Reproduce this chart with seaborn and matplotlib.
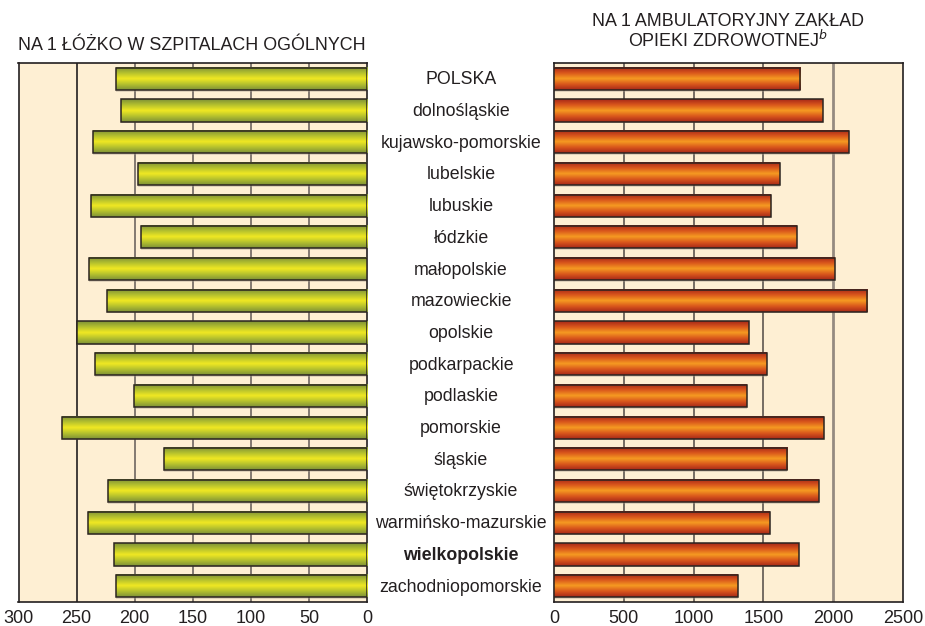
import numpy as np
import pandas as pd
import matplotlib
matplotlib.use("Agg")
import matplotlib.pyplot as plt
import matplotlib.transforms as mtransforms
from matplotlib.colors import LinearSegmentedColormap
import seaborn as sns

# data
regions = ["POLSKA", "dolnośląskie", "kujawsko-pomorskie", "lubelskie", "lubuskie",
           "łódzkie", "małopolskie", "mazowieckie", "opolskie", "podkarpackie",
           "podlaskie", "pomorskie", "śląskie", "świętokrzyskie",
           "warmińsko-mazurskie", "wielkopolskie", "zachodniopomorskie"]
per_bed = [216, 212, 236, 197, 238, 195, 239, 224, 250, 234,
           201, 263, 175, 223, 240, 218, 216]
per_clinic = [1765, 1925, 2112, 1620, 1555, 1742, 2014, 2244, 1397, 1526,
              1383, 1935, 1672, 1899, 1548, 1756, 1315]
left_ticks = [300, 250, 200, 150, 100, 50, 0]
right_ticks = [0, 500, 1000, 1500, 2000, 2500]

df = pd.DataFrame({"region": regions, "bed": per_bed, "clinic": per_clinic})

sns.set_style("white")
plt.rcParams["font.family"] = ["Liberation Sans", "DejaVu Sans"]
text_col = "#231f20"
bg = "#feefd3"

fig = plt.figure(figsize=(9.25, 6.26), dpi=100)
ax_l = fig.add_axes([0.020, 0.0383, 0.377, 0.8611])
ax_r = fig.add_axes([0.599, 0.0383, 0.377, 0.8611])

green_cmap = LinearSegmentedColormap.from_list(
    "g", [(0.0, "#7d9038"), (0.25, "#b4c02e"), (0.5, "#f0e823"),
          (0.75, "#b4c02e"), (1.0, "#7d9038")])
orange_cmap = LinearSegmentedColormap.from_list(
    "o", [(0.0, "#a52818"), (0.25, "#d9561c"), (0.5, "#f69a22"),
          (0.75, "#d9561c"), (1.0, "#a52818")])
grad = np.linspace(0, 1, 256).reshape(-1, 1)


def style_bars(ax, cmap, xlim):
    for p in ax.patches:
        x0, y0 = p.get_x(), p.get_y()
        w, h = p.get_width(), p.get_height()
        # faint drop shadow
        ax.add_patch(plt.Rectangle((x0, y0 + 0.05), w, h, facecolor="#a89c90",
                                   edgecolor="none", zorder=2, alpha=0.35))
        ax.imshow(grad, cmap=cmap, aspect="auto", extent=(x0, x0 + w, y0, y0 + h),
                  zorder=3, interpolation="bilinear")
        p.set_facecolor("none")
        p.set_edgecolor("#2b2420")
        p.set_linewidth(1.1)
        p.set_zorder(4)
    ax.set_xlim(*xlim)
    ax.set_ylim(len(regions) - 0.5, -0.5)


sns.barplot(data=df, x="bed", y="region", ax=ax_l, orient="h", width=0.7)
sns.barplot(data=df, x="clinic", y="region", ax=ax_r, orient="h", width=0.7)
style_bars(ax_l, green_cmap, (300, 0))
style_bars(ax_r, orange_cmap, (0, 2500))

for ax, ticks in [(ax_l, left_ticks), (ax_r, right_ticks)]:
    ax.set_facecolor(bg)
    ax.set_xticks(ticks)
    ax.set_xticklabels([str(t) for t in ticks], fontsize=13, color=text_col)
    ax.tick_params(axis="x", length=0, pad=6)
    ax.set_yticks([])
    ax.set_xlabel("")
    ax.set_ylabel("")
    for s in ax.spines.values():
        s.set_visible(True)
        s.set_color("#231f20")
        s.set_linewidth(1.2)

for v in [200, 150, 100, 50]:
    ax_l.axvline(v, color="#6e6660", lw=1.2, zorder=1)
ax_l.axvline(250, color="#231f20", lw=1.2, zorder=1)
for v in [500, 1000, 1500]:
    ax_r.axvline(v, color="#5e5650", lw=1.2, zorder=1)
ax_r.axvline(2000, color="#958a80", lw=2.0, zorder=1)

trans = mtransforms.blended_transform_factory(fig.transFigure, ax_l.transData)
for i, name in enumerate(regions):
    fig.text(0.4985, i + 0.03, name, transform=trans, ha="center", va="center",
             fontsize=12.8, color=text_col,
             fontweight="bold" if name == "wielkopolskie" else "normal")

fig.text(0.2075, 0.928, "NA 1 ŁÓŻKO W SZPITALACH OGÓLNYCH", ha="center",
         va="center", fontsize=12.9, color=text_col)
fig.text(0.787, 0.966, "NA 1 AMBULATORYJNY ZAKŁAD", ha="center", va="center",
         fontsize=12.9, color=text_col)
fig.text(0.787, 0.935, "OPIEKI ZDROWOTNEJ$^{\\mathit{b}}$", ha="center", va="center",
         fontsize=12.9, color=text_col)

fig.savefig("out.png", dpi=100)
